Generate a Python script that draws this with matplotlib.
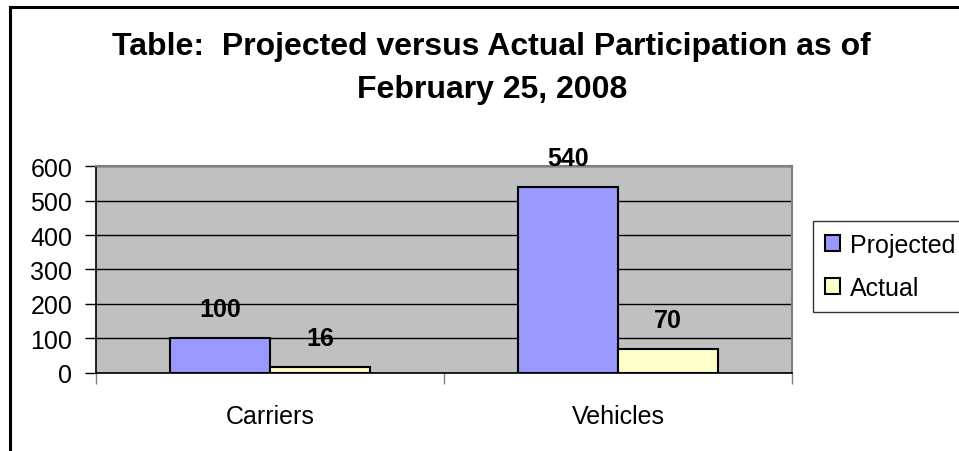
import matplotlib
matplotlib.use('Agg')
import matplotlib.pyplot as plt
from matplotlib.lines import Line2D
import numpy as np

categories = ['Carriers', 'Vehicles']
projected = [100, 540]
actual = [16, 70]
y_ticks = [0, 100, 200, 300, 400, 500, 600]

plt.rcParams['font.family'] = ['Liberation Sans', 'DejaVu Sans']

fig = plt.figure(figsize=(9.59, 4.52), dpi=100)
ax = fig.add_axes([0.1001, 0.1726, 0.7258, 0.4579])

# outer chart frame (only top and left edges visible)
fig.add_artist(Line2D([10/959, 1.0], [1 - 8/452, 1 - 8/452], color='black', lw=2.2,
                      transform=fig.transFigure))
fig.add_artist(Line2D([10/959, 10/959], [0, 1 - 8/452], color='black', lw=2.2,
                      transform=fig.transFigure))

x = np.arange(len(categories))
w = 0.2874
b1 = ax.bar(x - w/2, projected, w, color='#9999FF', edgecolor='black', linewidth=1.5,
            label='Projected', zorder=3)
b2 = ax.bar(x + w/2, actual, w, color='#FFFFCC', edgecolor='black', linewidth=1.5,
            label='Actual', zorder=3)

for bars in (b1, b2):
    for bar in bars:
        ax.annotate(f'{bar.get_height():.0f}',
                    (bar.get_x() + bar.get_width()/2, bar.get_height()),
                    xytext=(0, 21), textcoords='offset points', ha='center', va='center',
                    fontsize=18, fontweight='bold')

ax.set_facecolor('#C0C0C0')
ax.set_xlim(-0.5, 1.5)
ax.set_ylim(0, 600)
ax.set_yticks(y_ticks)
ax.set_yticklabels([str(v) for v in y_ticks])
ax.yaxis.grid(True, color='black', linewidth=1)
ax.set_axisbelow(True)

ax.set_xticks([-0.5, 0.5, 1.5])
ax.set_xticklabels([])
ax.set_xticks(x, minor=True)
ax.set_xticklabels(categories, minor=True)
ax.tick_params(axis='x', which='minor', length=0, pad=22, labelsize=18)
ax.tick_params(axis='x', which='major', length=8, width=1, color='#808080', direction='out')
ax.tick_params(axis='y', length=8, width=1, pad=9, labelsize=18, direction='out')

for s in ('top', 'right'):
    ax.spines[s].set_color('#808080')
    ax.spines[s].set_linewidth(1.5)
ax.spines['left'].set_color('black')
ax.spines['bottom'].set_color('black')
ax.spines['left'].set_linewidth(1.2)
ax.spines['bottom'].set_linewidth(1.2)

fig.text(491/959, 1 - 47/452, 'Table:  Projected versus Actual Participation as of',
         ha='center', va='center', fontsize=23, fontweight='bold')
fig.text(492/959, 1 - 90/452, 'February 25, 2008',
         ha='center', va='center', fontsize=23, fontweight='bold')

leg = fig.legend(handles=[b1, b2], loc='upper left', bbox_to_anchor=(813/959, 1 - 222/452),
                 fontsize=18, frameon=True, fancybox=False, edgecolor='black',
                 handlelength=0.6, handleheight=0.6, handletextpad=0.4,
                 labelspacing=0.75, borderpad=0.48, borderaxespad=0)
leg.get_frame().set_linewidth(1)

fig.savefig('out.png', dpi=100)
